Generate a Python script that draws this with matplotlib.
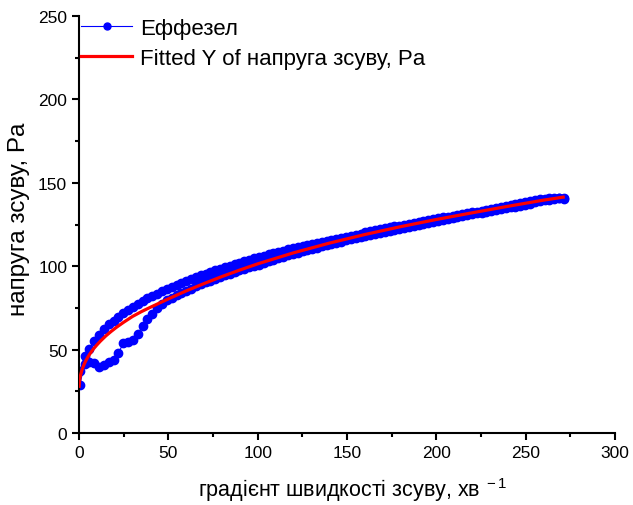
import matplotlib
matplotlib.use("Agg")
import matplotlib.pyplot as plt
from matplotlib.ticker import MultipleLocator

plt.rcParams['font.family'] = ['Liberation Sans', 'DejaVu Sans']
plt.rcParams['mathtext.fontset'] = 'custom'
plt.rcParams['mathtext.rm'] = 'Liberation Sans'
plt.rcParams['mathtext.it'] = 'Liberation Sans'

# shear-rate grid (same grid for both branches)
shear_rate = [0.4, 3.1, 5.8, 8.5, 11.2, 13.9, 16.7, 19.4, 22.1, 24.8, 27.5, 30.2, 32.9, 35.6, 38.3,
              41.0, 43.8, 46.5, 49.2, 51.9, 54.6, 57.3, 60.0, 62.7, 65.4, 68.2, 70.9, 73.6, 76.3, 79.0,
              81.7, 84.4, 87.1, 89.8, 92.5, 95.2, 98.0, 100.7, 103.4, 106.1, 108.8, 111.5, 114.2, 116.9,
              119.6, 122.4, 125.1, 127.8, 130.5, 133.2, 135.9, 138.6, 141.3, 144.0, 146.7, 149.4, 152.2,
              154.9, 157.6, 160.3, 163.0, 165.7, 168.4, 171.1, 173.8, 176.5, 179.2, 182.0, 184.7, 187.4,
              190.1, 192.8, 195.5, 198.2, 200.9, 203.6, 206.3, 209.1, 211.8, 214.5, 217.2, 219.9, 222.6,
              225.3, 228.0, 230.7, 233.5, 236.2, 238.9, 241.6, 244.3, 247.0, 249.7, 252.4, 255.1, 257.8,
              260.6, 263.3, 266.0, 268.7, 271.4]

# ascending branch (lower at small shear rates)
stress_up = [28.5, 41.5, 42.5, 41.8, 39.8, 40.8, 42.4, 43.6, 48.0, 53.8, 54.8, 55.8, 59.5, 64.0, 68.5,
             71.5, 75.0, 77.6, 79.6, 81.2, 82.6, 84.0, 85.3, 86.6, 87.9, 89.1, 90.3, 91.4, 92.5, 93.6,
             94.6, 95.6, 96.6, 97.5, 98.4, 99.3, 100.2, 101.0, 102.0, 103.0, 103.9, 104.8, 105.6, 106.5,
             107.3, 108.1, 108.9, 109.7, 110.4, 111.2, 111.9, 112.7, 113.4, 114.1, 114.8, 115.5, 116.2,
             116.8, 117.5, 118.1, 118.8, 119.4, 120.1, 120.7, 121.3, 121.9, 122.5, 123.1, 123.7, 124.3,
             124.9, 125.5, 126.1, 126.7, 127.3, 127.8, 128.4, 128.9, 129.5, 130.0, 130.6, 131.1, 131.6,
             132.1, 132.6, 133.1, 133.6, 134.1, 134.6, 135.2, 135.7, 136.3, 136.9, 137.5, 138.2, 138.8,
             139.4, 139.9, 140.3, 140.6, 140.2]

# descending branch (upper), listed on the same ascending grid
stress_down = [37.0, 46.0, 50.5, 55.0, 58.8, 62.5, 65.2, 67.4, 69.6, 71.8, 73.8, 75.7, 77.4, 79.1, 80.7,
               82.2, 83.6, 85.0, 86.3, 87.6, 88.8, 90.0, 91.2, 92.3, 93.4, 94.5, 95.6, 96.6, 97.6, 98.6,
               99.5, 100.4, 101.3, 102.2, 103.0, 103.9, 104.7, 105.5, 106.3, 107.1, 107.9, 108.6, 109.4,
               110.1, 110.8, 111.5, 112.2, 112.9, 113.5, 114.2, 114.8, 115.4, 116.0, 116.6, 117.2, 117.8,
               118.4, 118.9, 119.5, 120.3, 120.9, 121.5, 122.1, 122.7, 123.3, 123.9, 124.4, 125.0, 125.5,
               126.1, 126.6, 127.1, 127.7, 128.2, 128.7, 129.2, 129.7, 130.2, 130.7, 131.2, 131.7, 132.2,
               132.7, 133.2, 133.7, 134.2, 134.7, 135.3, 135.9, 136.5, 137.2, 138.0, 138.6, 139.1, 139.6,
               140.0, 140.5, 140.8, 141.0, 141.1, 141.0]

# fitted curve
fit_x = [0.1, 0.3, 0.6, 1, 1.5, 2, 3, 4, 5, 6, 8, 10, 12, 15, 18, 21, 25, 30, 35, 40, 50, 60, 70, 80,
         90, 100, 120, 140, 160, 180, 200, 220, 240, 260, 271]
fit_y = [28.0, 31.1, 33.2, 35.2, 37.2, 38.8, 41.5, 43.7, 45.6, 47.3, 50.3, 52.8, 55.1, 58.2, 60.9, 63.4,
         66.4, 69.9, 72.8, 75.4, 80.4, 85.2, 89.6, 93.8, 97.7, 101.4, 108.0, 113.8, 119.0, 123.7, 128.0,
         132.0, 135.9, 139.6, 141.4]

x_ticks = [0, 50, 100, 150, 200, 250, 300]
y_ticks = [0, 50, 100, 150, 200, 250]

series_label = 'Ефезел'.replace('Ефе', 'Еффе')
fit_label = 'Fitted Y of напруга зсуву, Pa'
xlabel = 'градієнт швидкості зсуву, хв$^{\\ -1}$'
ylabel = 'напруга зсуву, Pa'

W, H = 633, 506
fig = plt.figure(figsize=(W / 100, H / 100), dpi=100)
ax = fig.add_axes([79 / W, 1 - 434 / H, (615 - 79) / W, (434 - 17) / H])

all_x = shear_rate + shear_rate[::-1]
all_y = stress_up + stress_down[::-1]
ax.plot(all_x, all_y, color='#0000FF', lw=0.8, marker='o', ms=6, mec='#0000FF', mfc='#0000FF',
        label=series_label, zorder=2)
ax.plot(fit_x, fit_y, color='#FF0000', lw=2.3, label=fit_label, zorder=3)

ax.set_xlim(0, 300)
ax.set_ylim(0, 250)
ax.set_xticks(x_ticks)
ax.set_yticks(y_ticks)
ax.xaxis.set_minor_locator(MultipleLocator(25))
ax.yaxis.set_minor_locator(MultipleLocator(25))
ax.tick_params(which='major', direction='out', length=5, width=1.5, labelsize=12.5, colors='black')
ax.tick_params(which='minor', direction='out', length=3, width=1.5)
for s in ['top', 'right']:
    ax.spines[s].set_visible(False)
for s in ['left', 'bottom']:
    ax.spines[s].set_linewidth(1.5)

# label positions in figure pixels (centre of text)
fig.text(353 / W, 1 - 490 / H, xlabel, fontsize=15.5, ha='center', va='center')
fig.text(19 / W, 1 - 219 / H, ylabel, fontsize=17.5, ha='center', va='center', rotation=90)

leg = ax.legend(loc='upper left', bbox_to_anchor=(0.004, 0.995), frameon=False, fontsize=16,
                handlelength=2.3, handletextpad=0.35, borderaxespad=0.0, borderpad=0.0,
                labelspacing=0.4)
for h in leg.legend_handles:
    if h.get_marker() == 'o':
        h.set_markersize(5)

fig.savefig('out.png', dpi=100)
